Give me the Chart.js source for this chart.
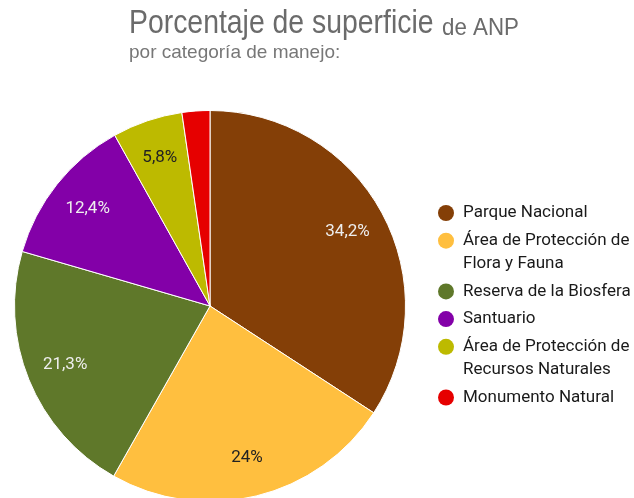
<!DOCTYPE html>
<html>
<head>
<meta charset="utf-8">
<script src="https://cdn.jsdelivr.net/npm/chart.js@4"></script>
<style>
  html, body { margin: 0; padding: 0; background: #fff; overflow: hidden; }
  canvas { display: block; }
</style>
</head>
<body>
<canvas id="grafica" width="634" height="510"></canvas>
<script>
// datos
const categorias = [
    'Parque Nacional',
    'Área de Protección de Flora y Fauna',
    'Reserva de la Biosfera',
    'Santuario',
    'Área de Protección de Recursos Naturales',
    'Monumento Natural'
];
const leyendaLineas = [
    ['Parque Nacional'],
    ['Área de Protección de', 'Flora y Fauna'],
    ['Reserva de la Biosfera'],
    ['Santuario'],
    ['Área de Protección de', 'Recursos Naturales'],
    ['Monumento Natural']
];
const porcentajes = [34.2, 24, 21.3, 12.4, 5.8, 2.3];
const etiquetas = ['34,2%', '24%', '21,3%', '12,4%', '5,8%', ''];
const colores = ['#843f07', '#ffbf3f', '#5f782a', '#8300a8', '#bdba00', '#e60000'];
const colorEtiqueta = ['#eeeeee', '#222222', '#eeeeee', '#eeeeee', '#222222', '#eeeeee'];

// titulo con dos tamanos de letra
const tituloPlugin = {
    id: 'titulo',
    afterDraw(chart) {
        const ctx = chart.ctx;
        ctx.save();
        ctx.textBaseline = 'alphabetic';
        ctx.textAlign = 'left';
        ctx.fillStyle = '#6b6b6b';
        ctx.save();
        ctx.translate(129, 33);
        ctx.scale(0.86, 1);
        ctx.font = '33px "Liberation Sans", Arial, sans-serif';
        ctx.fillText('Porcentaje de superficie', 0, 0);
        ctx.restore();
        ctx.save();
        ctx.translate(442, 35);
        ctx.scale(0.93, 1);
        ctx.font = '24px "Liberation Sans", Arial, sans-serif';
        ctx.fillText('de ANP', 0, 0);
        ctx.restore();
        ctx.fillStyle = '#777777';
        ctx.font = '19px "Liberation Sans", Arial, sans-serif';
        ctx.fillText('por categoría de manejo:', 129, 58);
        ctx.restore();
    }
};

// porcentajes dentro de cada rebanada
const etiquetasPlugin = {
    id: 'etiquetas',
    afterDatasetsDraw(chart) {
        const ctx = chart.ctx;
        const meta = chart.getDatasetMeta(0);
        ctx.save();
        ctx.font = '17px Roboto, sans-serif';
        ctx.textAlign = 'center';
        ctx.textBaseline = 'middle';
        meta.data.forEach(function (arc, i) {
            if (!etiquetas[i]) return;
            const p = arc.getProps(['x', 'y', 'startAngle', 'endAngle', 'outerRadius'], true);
            const a = (p.startAngle + p.endAngle) / 2;
            const r = p.outerRadius * 0.8;
            ctx.fillStyle = colorEtiqueta[i];
            ctx.fillText(etiquetas[i], p.x + Math.cos(a) * r, p.y + Math.sin(a) * r);
        });
        ctx.restore();
    }
};

// leyenda con etiquetas en dos lineas
const leyendaPlugin = {
    id: 'leyenda',
    afterDraw(chart) {
        const ctx = chart.ctx;
        ctx.save();
        ctx.font = '17px Roboto, sans-serif';
        ctx.textBaseline = 'middle';
        ctx.textAlign = 'left';
        let y = 213;
        leyendaLineas.forEach(function (lineas, i) {
            ctx.fillStyle = colores[i];
            ctx.beginPath();
            ctx.arc(446, y, 8, 0, Math.PI * 2);
            ctx.fill();
            ctx.fillStyle = '#1a1a1a';
            lineas.forEach(function (t, j) {
                ctx.fillText(t, 463, y + j * 23);
            });
            y += 27.7 + (lineas.length - 1) * 23;
        });
        ctx.restore();
    }
};

const config = {
    type: 'pie',
    data: {
        labels: categorias,
        datasets: [{
            data: porcentajes,
            backgroundColor: colores,
            borderColor: '#ffffff',
            borderWidth: 1
        }]
    },
    options: {
        responsive: false,
        animation: false,
        layout: {
            padding: { left: 14, top: 110, right: 228, bottom: 8 }
        },
        plugins: {
            legend: { display: false },
            title: { display: false },
            tooltip: { enabled: false }
        }
    },
    plugins: [tituloPlugin, etiquetasPlugin, leyendaPlugin]
};

const chart = new Chart(document.getElementById('grafica'), config);
</script>
</body>
</html>
